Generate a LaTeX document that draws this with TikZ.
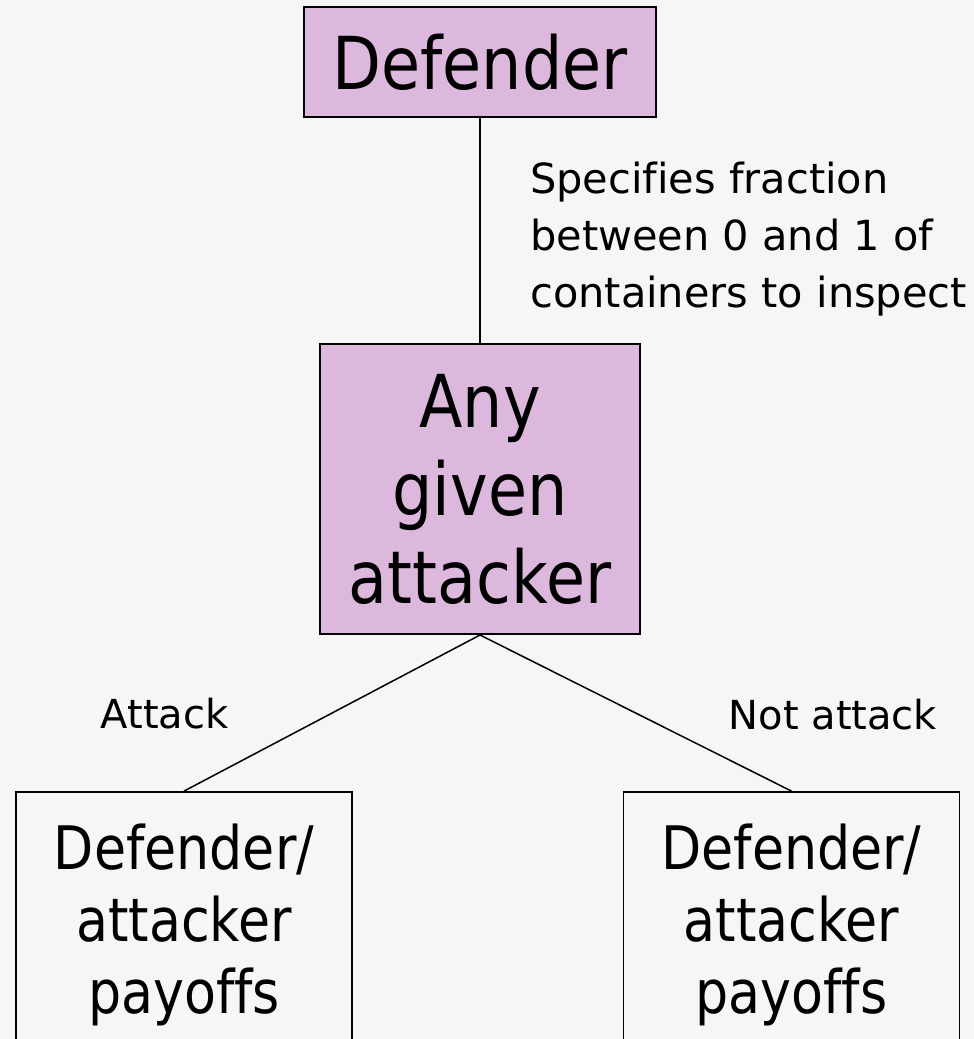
\documentclass[tikz,border=0pt]{standalone}
\usepackage{fontspec}
\setmainfont[Ligatures=NoCommon]{DejaVu Sans}
\newfontfamily\bigfont[FakeStretch=0.87,Ligatures=NoCommon]{DejaVu Sans}
\definecolor{pinkfill}{RGB}{221,184,221}
\definecolor{bgcol}{RGB}{246,246,246}
\begin{document}
\begin{tikzpicture}[x=1pt,y=-1pt,
  box/.style={draw=black, line width=2pt, fill=pinkfill, inner sep=0pt, align=center},
  leaf/.style={draw=black, line width=1.8pt, inner sep=0pt, align=center,
    minimum width=336pt, minimum height=266pt,
    font=\bigfont\fontsize{60}{72}\selectfont},
  conn/.style={line width=1.5pt},
  lbl/.style={inner sep=0pt, font=\fontsize{40}{57}\selectfont}]
\fill[bgcol] (0,0) rectangle (974,1039);
\useasboundingbox (0,0) rectangle (974,1039);
\clip (0,0) rectangle (974,1039);
\node[box, minimum width=352pt, minimum height=110pt,
  font=\bigfont\fontsize{73}{88}\selectfont] (def) at (480,62) {Defender};
\node[box, minimum width=320pt, minimum height=290pt,
  font=\bigfont\fontsize{73}{88}\selectfont] (att) at (480,489) {Any\\given\\attacker};
\node[leaf] (left) at (184,925) {Defender/\\attacker\\payoffs};
\node[leaf] (right) at (791.5,925) {Defender/\\attacker\\payoffs};
\draw[conn] (def.south) -- (att.north);
\draw[conn] (att.south) -- (left.north);
\draw[conn] (att.south) -- (right.north);
\node[lbl, anchor=north west, align=left, font=\fontsize{41.5}{57}\selectfont] (spec) at (530,161.5)
  {Specifies fraction\\between 0 and 1 of\\containers to inspect};
\node[lbl, anchor=base] (la) at (164.5,728) {Attack};
\node[lbl, anchor=base] (lna) at (833,729) {Not attack};
\end{tikzpicture}
\end{document}
